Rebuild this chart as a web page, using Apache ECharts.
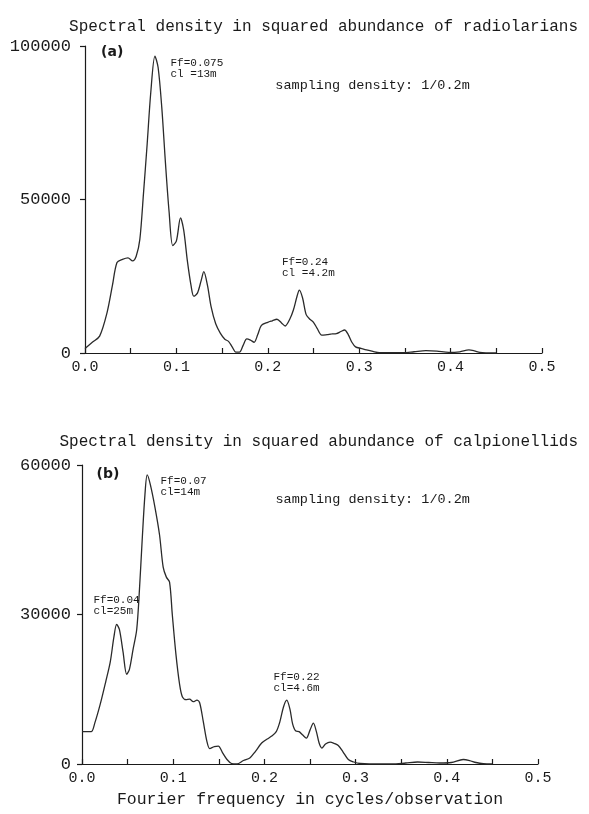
<!DOCTYPE html>
<html>
<head>
<meta charset="utf-8">
<script src="https://cdn.jsdelivr.net/npm/echarts@6/dist/echarts.min.js"></script>
<style>html,body{margin:0;padding:0;background:#fff;}#c{width:589px;height:814px;}</style>
</head>
<body>
<div id="c"></div>
<script>
// Panel (a): radiolarians
const freqA = [0.000,0.008,0.016,0.024,0.030,0.035,0.041,0.047,0.052,0.056,0.060,0.064,0.068,0.072,0.0765,0.080,0.084,0.088,0.092,0.096,0.100,0.1045,0.108,0.112,0.116,0.119,0.123,0.127,0.130,0.134,0.138,0.143,0.148,0.153,0.157,0.161,0.165,0.169,0.173,0.177,0.181,0.185,0.189,0.193,0.200,0.205,0.210,0.215,0.219,0.224,0.228,0.232,0.2345,0.238,0.242,0.246,0.250,0.254,0.259,0.265,0.270,0.275,0.280,0.284,0.288,0.292,0.296,0.302,0.308,0.315,0.322,0.335,0.348,0.360,0.373,0.385,0.398,0.410,0.420,0.426,0.432,0.440,0.450];
const densA = [1500,3500,5500,13000,22000,29500,30500,31000,30000,31500,37000,52000,68000,85000,96700,93000,80000,62000,46000,35000,36500,44000,40000,30000,22000,18500,19500,23500,26500,22000,15000,9500,6500,4500,3800,2000,300,300,2500,4600,4200,3500,6000,9000,10000,10500,11000,9800,8800,11000,14000,18500,20500,18000,12500,11000,10000,8000,5800,6000,6200,6300,7000,7500,6000,3500,2000,1500,1000,500,100,100,100,400,750,600,200,400,1000,700,200,50,0];
// Panel (b): calpionellids
const freqB = [0.000,0.010,0.014,0.020,0.026,0.031,0.035,0.038,0.041,0.045,0.049,0.052,0.056,0.060,0.063,0.066,0.069,0.0715,0.075,0.080,0.085,0.089,0.0925,0.096,0.099,0.103,0.107,0.110,0.114,0.118,0.122,0.126,0.129,0.133,0.137,0.140,0.145,0.1495,0.154,0.159,0.164,0.170,0.177,0.184,0.190,0.197,0.203,0.208,0.213,0.217,0.221,0.2245,0.228,0.231,0.2345,0.238,0.242,0.246,0.250,0.2537,0.257,0.260,0.263,0.267,0.272,0.277,0.281,0.286,0.292,0.298,0.305,0.315,0.325,0.340,0.355,0.368,0.380,0.392,0.405,0.418,0.425,0.432,0.440,0.450];
const densB = [6500,6500,8200,12000,16500,20500,25500,28000,27000,22500,18000,19000,23000,27000,35000,45000,54000,58000,56000,51500,46000,39500,37500,36500,30000,22000,16000,13500,12900,13000,12500,12800,12300,8500,4500,3100,3500,3600,2300,900,100,0,700,1200,2500,4200,5000,5600,6500,8500,11500,12800,11000,8000,6600,6500,5800,5200,6800,8200,6500,4200,3200,4000,4400,4100,3700,2500,900,400,100,0,0,0,200,400,300,200,300,900,700,300,50,0];

const xTicksMax = 0.5;
const yMaxA = 100000, yStepA = 50000;
const yMaxB = 60000, yStepB = 30000;
const titleA = 'Spectral density in squared abundance of radiolarians';
const titleB = 'Spectral density in squared abundance of calpionellids';
const xName = 'Fourier frequency in cycles/observation';
const notesA = [
  {text:'(a)', at:[0.017, 98000], bold:true},
  {text:'Ff=0.075\ncl =13m', at:[0.093, 92800]},
  {text:'sampling density: 1/0.2m', at:[0.2077, 87000], big:true},
  {text:'Ff=0.24\ncl =4.2m', at:[0.215, 27700]}
];
const notesB = [
  {text:'(b)', at:[0.0154, 58200], bold:true},
  {text:'Ff=0.07\ncl=14m', at:[0.0855, 55600]},
  {text:'sampling density: 1/0.2m', at:[0.2116, 53000], big:true},
  {text:'Ff=0.04\ncl=25m', at:[0.012, 31700]},
  {text:'Ff=0.22\ncl=4.6m', at:[0.2094, 16250]}
];

const FONT = '"Liberation Mono", monospace';
const INK = '#1a1a1a';

function zip(a, b){ return a.map((v,i)=>[v,b[i]]); }
function marks(notes){
  return {
    silent: true,
    animation: false,
    data: notes.map(n=>({
      coord: n.at,
      symbol: 'circle',
      symbolSize: 1,
      itemStyle: {color: 'rgba(0,0,0,0)'},
      label: {
        show: true,
        position: 'right',
        distance: 0,
        formatter: n.text,
        fontFamily: n.bold ? '"DejaVu Sans", sans-serif' : FONT,
        fontWeight: n.bold ? 'bold' : 'normal',
        fontSize: n.bold ? 14 : (n.big ? 13.5 : 11),
        lineHeight: n.bold ? 16 : 11,
        color: INK
      }
    }))
  };
}
function xAxisCfg(gi, withName){
  return {
    gridIndex: gi, type: 'value', min: 0, max: xTicksMax, interval: 0.1,
    axisLine: {lineStyle: {color: INK, width: 1.2}},
    axisTick: {show: true, inside: true, length: 5, lineStyle: {color: INK, width: 1.2}},
    minorTick: {show: true, splitNumber: 2, length: 5, lineStyle: {color: INK, width: 1.2}},
    splitLine: {show: false},
    axisLabel: {color: INK, fontFamily: FONT, fontSize: 15, margin: 7, formatter: v=>v.toFixed(1)},
    name: withName ? xName : '',
    nameLocation: 'middle', nameGap: 27,
    nameTextStyle: {color: INK, fontFamily: FONT, fontSize: 16.5}
  };
}
function yAxisCfg(gi, max, step, margin){
  return {
    gridIndex: gi, type: 'value', min: 0, max: max, interval: step,
    axisLine: {show: true, lineStyle: {color: INK, width: 1.2}},
    axisTick: {show: true, inside: false, length: 5, lineStyle: {color: INK, width: 1.2}},
    splitLine: {show: false},
    axisLabel: {color: INK, fontFamily: FONT, fontSize: 17, margin: margin, formatter: v=>String(v)}
  };
}

const chart = echarts.init(document.getElementById('c'), null, {renderer: 'canvas'});
chart.setOption({
  animation: false,
  backgroundColor: '#fff',
  title: [
    {text: titleA, right: 6, top: 14, textStyle: {fontFamily: FONT, fontSize: 16, fontWeight: 'normal', color: INK}},
    {text: titleB, right: 6, top: 429, textStyle: {fontFamily: FONT, fontSize: 16, fontWeight: 'normal', color: INK}}
  ],
  grid: [
    {left: 85, right: 47, top: 46, height: 307},
    {left: 82, right: 51, top: 465, height: 299}
  ],
  xAxis: [xAxisCfg(0, false), xAxisCfg(1, true)],
  yAxis: [yAxisCfg(0, yMaxA, yStepA, 14), yAxisCfg(1, yMaxB, yStepB, 11)],
  series: [
    {type: 'line', xAxisIndex: 0, yAxisIndex: 0, data: zip(freqA, densA), smooth: 0.3, showSymbol: false,
     lineStyle: {color: '#2a2a2a', width: 1.3}, markPoint: marks(notesA)},
    {type: 'line', xAxisIndex: 1, yAxisIndex: 1, data: zip(freqB, densB), smooth: 0.3, showSymbol: false,
     lineStyle: {color: '#2a2a2a', width: 1.3}, markPoint: marks(notesB)}
  ]
});
</script>
</body>
</html>
